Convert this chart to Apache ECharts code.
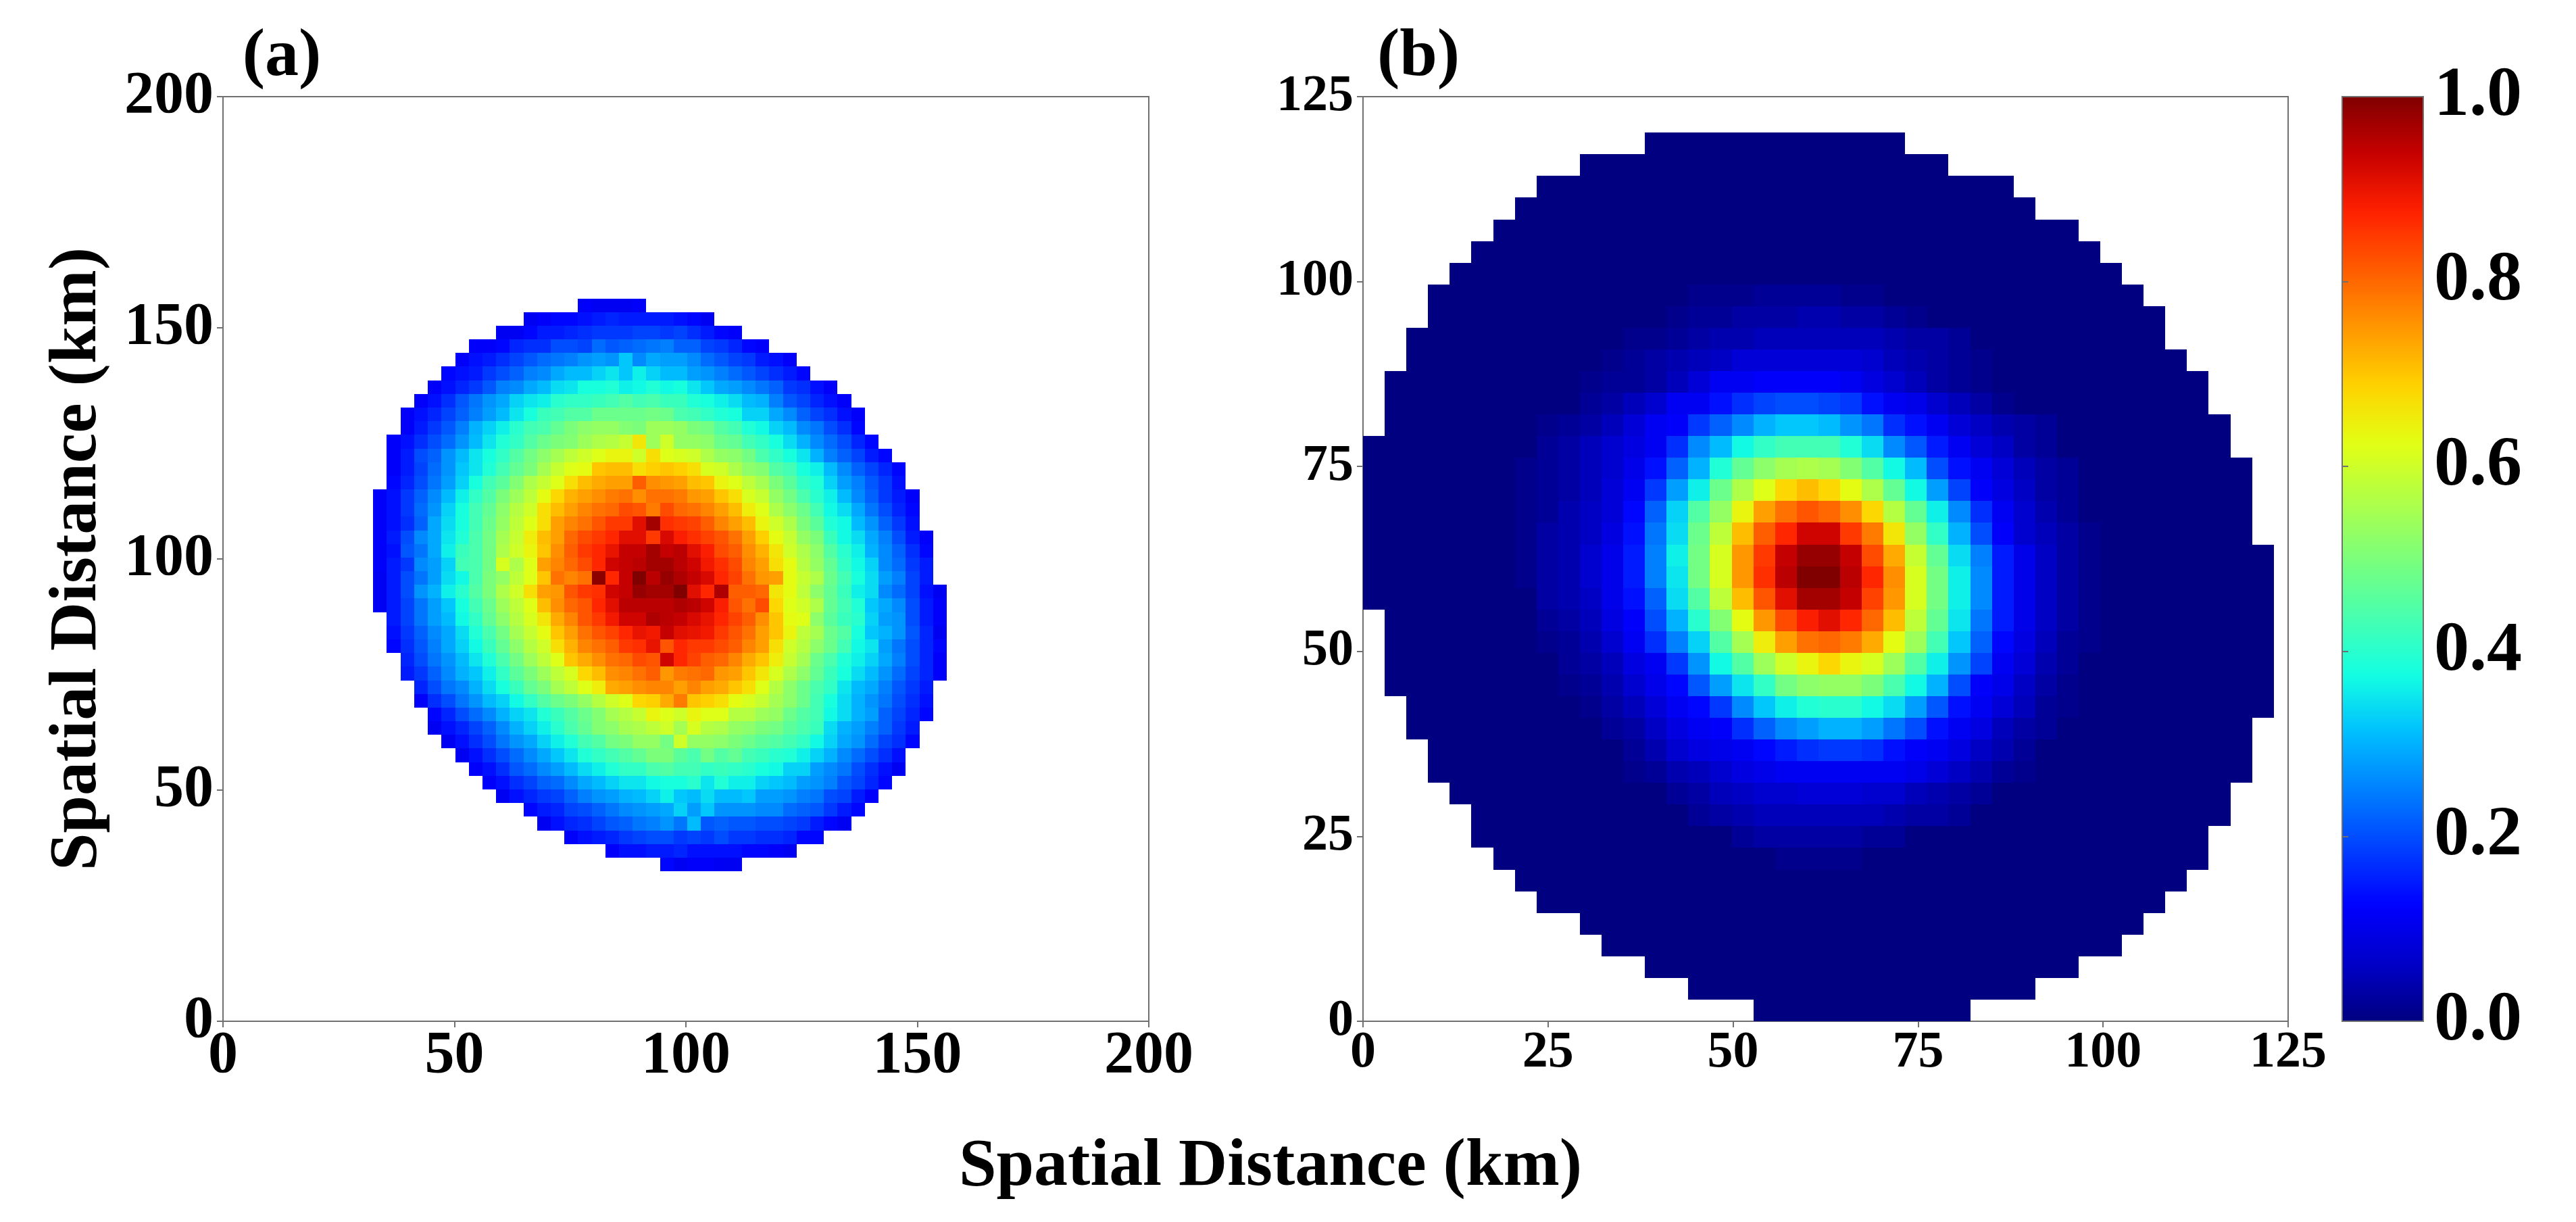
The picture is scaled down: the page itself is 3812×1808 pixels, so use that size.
<!DOCTYPE html>
<html>
<head>
<meta charset="utf-8">
<title>Spatial Distance</title>
<script src="https://cdn.jsdelivr.net/npm/echarts@6/dist/echarts.min.js"></script>
<style>
html, body { margin: 0; padding: 0; background: #fff; }
#chart { width: 3812px; height: 1808px; }
</style>
</head>
<body>
<div id="chart"></div>
<script>
// panel (a): rows run bottom to top from rowIndex 11, each row starts at its own column
var aFirstRow = 11;
var aStartCol = [32,28,25,23,22,20,19,18,17,16,15,15,14,14,13,13,12,12,12,11,11,11,11,11,11,11,11,11,12,12,12,12,13,13,14,15,16,17,18,20,22,26];
var aRows = [
[13,11,12,12,11,11],
[12,14,14,15,15,16,14,14,14,14,13,13,12,11],
[12,14,15,16,18,19,20,20,18,19,18,20,18,18,17,17,16,13,13],
[11,14,16,17,19,21,22,24,25,27,24,31,21,22,21,21,20,20,19,18,15,13,11],
[13,15,16,19,20,22,24,26,27,28,29,33,28,32,27,27,27,26,26,23,22,21,18,15,13],
[11,14,16,18,19,22,25,27,28,30,31,33,36,32,31,34,31,31,32,28,28,27,25,24,20,19,15,12],
[12,14,17,19,22,23,26,29,31,33,35,35,37,38,38,40,35,39,36,36,33,32,31,28,27,25,21,19,16,13],
[12,14,17,21,23,26,28,31,34,36,39,41,41,44,45,43,43,41,42,41,40,38,37,33,33,28,26,24,20,17,14,11],
[11,14,17,20,23,26,29,32,35,39,41,43,45,47,50,50,46,44,49,45,47,43,42,40,39,36,33,30,26,23,20,17,14],
[11,14,17,20,24,27,29,33,36,39,43,45,49,50,53,53,49,60,53,53,52,50,48,46,45,43,41,37,33,29,27,23,19,17,13],
[11,14,16,19,22,26,30,33,36,40,44,47,51,52,55,56,58,60,55,61,57,56,53,52,50,49,46,44,42,34,30,28,25,22,18,15],
[13,16,20,23,26,30,33,35,39,42,45,48,51,55,57,59,64,62,60,64,62,62,57,57,54,53,48,45,43,37,34,30,28,22,19,16,13],
[12,17,20,24,27,31,33,37,41,45,48,50,53,57,60,62,68,69,73,78,70,69,67,63,61,59,55,52,48,43,38,34,30,27,24,20,17,14],
[16,20,24,26,30,34,38,42,47,50,55,58,62,65,73,74,76,77,77,74,77,74,73,70,67,62,57,52,48,44,41,35,31,29,25,21,18,15],
[15,18,22,26,30,32,36,41,46,50,54,58,61,68,71,76,77,79,81,75,78,79,80,75,74,70,66,61,56,52,47,42,38,34,31,27,23,19,16,12],
[16,20,24,27,31,35,39,44,49,54,58,62,70,73,76,79,80,83,82,93,87,84,81,80,77,73,70,65,59,55,48,44,39,36,33,29,25,20,16,12],
[13,17,21,25,29,33,37,42,47,52,57,60,67,72,77,79,81,85,86,90,82,87,85,85,83,81,77,74,67,60,57,52,48,43,37,35,28,24,20,16,13],
[14,18,22,26,29,34,39,44,49,55,59,63,70,74,79,82,84,87,90,89,94,91,90,89,85,82,79,74,70,64,58,55,48,45,38,32,30,27,21,16,11],
[15,19,24,28,31,37,41,47,52,57,61,66,73,77,82,85,89,93,93,96,95,94,92,90,87,84,81,76,70,63,62,52,46,42,40,33,28,27,20,15,12],
[11,15,19,24,28,32,38,43,48,54,58,62,71,76,80,82,87,91,95,95,95,95,96,95,93,88,82,79,83,68,62,60,56,47,43,39,32,29,26,20,15,12],
[11,15,20,27,30,36,40,45,50,56,60,67,74,75,82,85,86,93,94,98,97,97,100,91,87,96,81,81,80,66,63,58,52,47,42,36,34,26,23,19,14,11],
[11,15,20,24,28,34,37,44,50,53,58,62,70,79,77,79,99,87,94,100,95,98,96,94,92,87,84,79,75,74,63,59,56,48,43,38,34,28,25,19,15],
[12,15,18,26,28,33,43,44,49,61,56,62,74,77,80,83,87,93,94,95,97,97,95,93,89,86,83,77,74,67,63,57,53,47,41,37,33,26,23,18,15],
[12,14,21,24,29,36,42,44,49,56,60,64,70,76,81,85,87,90,94,94,97,94,95,91,88,83,81,76,72,66,60,56,52,45,40,36,30,26,22,17,13],
[12,15,20,26,29,35,39,44,49,55,59,65,71,74,80,83,85,87,91,91,85,92,88,86,84,82,79,74,69,63,59,53,50,42,37,34,29,25,20,15,12],
[12,14,17,22,29,34,38,43,48,53,58,62,67,74,77,79,82,85,85,91,97,86,85,84,81,77,74,71,64,60,56,50,46,39,37,31,27,22,18,14],
[12,14,18,23,27,33,38,43,47,52,57,60,67,71,74,77,79,80,83,82,78,83,80,79,77,74,71,65,62,56,52,48,43,37,34,29,24,20,16,13],
[12,14,18,22,26,31,36,41,45,50,54,58,63,68,72,74,76,78,79,76,79,79,78,75,74,70,67,61,59,53,49,44,40,36,31,26,22,18,15,12],
[13,16,20,24,28,33,38,43,46,51,56,59,62,67,71,73,74,74,81,76,75,74,71,70,64,62,58,55,50,46,41,39,33,28,25,21,18,14],
[12,15,19,23,27,32,35,39,43,47,50,55,59,62,63,70,71,71,67,69,70,69,67,61,60,56,52,51,45,43,38,36,31,26,22,19,16,13],
[12,15,20,22,27,31,35,38,41,45,49,52,55,58,60,62,64,64,60,67,62,61,60,56,53,52,49,44,41,38,35,30,25,22,19,15,13],
[12,14,17,20,23,27,31,35,39,41,45,48,50,51,54,56,57,59,66,54,60,53,53,52,48,47,43,41,38,34,30,26,23,20,16,13],
[12,15,18,21,25,30,33,36,40,43,44,47,50,52,53,53,51,50,54,54,53,50,49,45,43,39,37,33,31,26,24,20,17,13],
[12,14,16,19,22,25,28,31,35,38,42,43,45,45,48,48,48,48,49,48,44,43,41,39,38,33,33,29,26,22,19,17,14,12],
[12,14,17,21,24,27,29,33,35,36,40,41,41,42,43,45,43,44,42,42,39,38,36,34,31,30,25,21,19,16,14,12],
[12,14,16,18,21,25,26,29,31,34,35,38,38,39,36,37,39,37,38,35,32,29,28,26,24,22,18,17,14,12],
[13,14,15,18,20,22,25,26,29,31,31,33,35,32,36,33,31,31,28,27,25,23,21,19,17,15,13],
[12,14,15,17,19,21,23,24,25,27,28,27,32,26,29,28,28,26,23,21,19,18,15,14,12],
[12,12,13,16,17,17,20,20,19,23,21,22,23,24,25,22,22,19,18,16,13,12],
[11,11,13,15,15,16,17,18,18,18,19,19,18,19,17,15,13,12],
[11,12,13,13,14,15,16,15,15,15,15,14,13,11],
[12,11,11,11,12]
];

// panel (b): outline per row, then the part of the disc that is not plain navy
var bRowStart = [18,15,13,11,10,8,7,6,5,5,4,3,3,2,2,1,1,1,1,0,0,0,0,0,0,0,0,1,1,1,2,2,3,3,4,5,6,7,8,10,13];
var bRowEnd = [28,31,33,35,36,37,38,39,39,40,40,41,41,41,42,42,42,42,42,42,42,42,41,41,41,41,40,40,39,39,38,37,37,36,35,34,33,31,30,27,25];
var bCoreFirstRow = 7;
var bCoreCol = [19,17,15,14,12,12,11,10,9,9,8,8,8,7,7,7,7,7,7,8,8,10,10,11,12,14,15];
var bCoreRows = [
[1,1,1,1],
[2,3,3,3,3,3,2,2],
[2,3,4,5,5,5,5,5,5,4,3,3,2],
[2,3,5,6,7,7,8,8,8,7,7,5,4,3,2],
[1,2,4,5,7,9,10,11,11,11,11,11,11,10,8,6,4,2,1],
[2,4,7,9,10,11,13,15,17,18,18,17,14,12,11,9,6,4,2],
[2,3,6,9,11,12,17,22,26,28,30,30,28,24,20,14,11,9,5,3,2],
[1,3,5,8,11,13,18,26,32,36,39,40,40,37,34,28,21,14,11,8,5,2,1],
[1,2,4,7,10,13,21,28,35,41,49,52,53,53,50,44,37,30,20,12,10,6,3,1],
[2,3,5,9,11,18,27,37,45,54,60,64,68,64,61,54,45,36,27,19,11,8,4,2],
[1,2,4,7,11,17,25,33,45,55,65,74,79,80,78,73,63,54,43,32,22,13,9,5,2,1],
[2,3,5,9,12,20,30,40,51,63,75,83,88,91,87,80,71,58,47,35,24,15,10,6,3,1],
[3,4,6,10,14,22,34,45,58,71,82,91,97,97,94,84,75,61,49,36,26,15,10,6,3,1],
[1,3,4,7,10,15,25,35,49,61,75,86,95,100,100,95,87,76,61,49,36,26,15,10,6,3,1],
[1,3,4,7,10,15,25,36,49,61,75,85,94,98,98,94,83,73,59,47,34,25,15,10,6,3,1],
[1,3,4,6,9,14,24,34,48,58,71,81,87,93,93,85,78,66,53,41,30,20,12,7,5,3,1],
[1,2,4,6,8,13,22,33,45,53,64,74,79,82,80,76,68,57,47,36,26,17,11,7,4,2],
[1,2,3,5,8,11,18,28,36,48,56,62,68,71,68,63,56,47,37,28,19,12,9,6,3,2],
[1,2,3,5,7,10,14,22,30,39,47,52,55,56,55,51,45,37,31,20,14,11,8,5,3,2],
[2,3,5,7,9,11,17,26,31,37,41,43,43,43,39,34,26,21,15,11,8,6,3,2],
[1,2,3,5,8,11,12,18,22,26,30,32,32,31,27,24,17,14,11,8,6,4,3,2],
[2,3,5,7,11,11,14,17,19,20,20,19,18,14,11,10,7,5,3,1],
[1,2,2,3,5,8,11,11,12,12,12,12,11,9,7,5,3,2,1],
[1,2,3,4,5,6,8,8,8,8,8,8,7,5,4,3,2,1],
[1,1,2,3,4,4,5,5,5,5,5,5,4,3,3,2],
[1,2,2,3,3,3,4,4,3,3,2,1],
[1,1,1,2,2,2,2,1,1]
];

var aCellKm = 2.95;
var bCellKm = 2.93;
var aTicks = [0, 50, 100, 150, 200];
var bTicks = [0, 25, 50, 75, 100, 125];
var barTicks = [0, 0.2, 0.4, 0.6, 0.8, 1];
var jetColors = ['#000080','#0000c8','#0000ff','#0040ff','#0080ff','#00bfff','#14ffe2','#48ffaf','#7bff7b','#afff48','#e2ff14','#ffd200','#ff9700','#ff5c00','#ff2100','#c80000','#800000'];

var FONT = '"Liberation Serif", "Times New Roman", serif';
var LINE = '#707070';

function buildA() {
    var out = [];
    aRows.forEach(function(vals, j) {
        vals.forEach(function(v, i) {
            out.push([(aStartCol[j] + i) * aCellKm, (aFirstRow + j) * aCellKm, v / 100]);
        });
    });
    return out;
}

function buildB() {
    var out = [];
    bRowStart.forEach(function(start, r) {
        var core = bCoreRows[r - bCoreFirstRow];
        var from = bCoreCol[r - bCoreFirstRow];
        for (var c = start; c < bRowEnd[r]; c++) {
            var v = 0;
            if (core && c >= from && c - from < core.length) {
                v = core[c - from];
            }
            out.push([c * bCellKm, r * bCellKm, v / 100]);
        }
    });
    return out;
}

function cellRender(cell) {
    return function(params, api) {
        var x = api.value(0), y = api.value(1);
        var p0 = api.coord([x, y + cell]);
        var p1 = api.coord([x + cell, y]);
        var left = Math.round(p0[0]), top = Math.round(p0[1]);
        return {
            type: 'rect',
            shape: { x: left, y: top, width: Math.round(p1[0]) - left, height: Math.round(p1[1]) - top },
            style: { fill: api.visual('color') }
        };
    };
}

function axis(ticks, size, margin, extra) {
    var opt = {
        type: 'value',
        min: ticks[0],
        max: ticks[ticks.length - 1],
        interval: ticks[1] - ticks[0],
        splitLine: { show: false },
        axisLine: { show: true, lineStyle: { color: LINE, width: 2 } },
        axisTick: { show: true, length: 9, lineStyle: { color: LINE, width: 2 } },
        axisLabel: { color: '#000', fontFamily: FONT, fontWeight: 'bold', fontSize: size, margin: margin }
    };
    for (var k in extra) { opt[k] = extra[k]; }
    return opt;
}

var yLabel = function(size) {
    return { color: '#000', fontFamily: FONT, fontWeight: 'bold', fontSize: size, margin: 14, padding: [14, 0, 0, 0] };
};

var chart = echarts.init(document.getElementById('chart'));
chart.setOption({
    backgroundColor: '#fff',
    animation: false,
    title: [
        { text: '(a)', left: 412, top: 30, textAlign: 'center', textStyle: { fontFamily: FONT, fontWeight: 'bold', fontSize: 100, color: '#000' } },
        { text: '(b)', left: 2094, top: 30, textAlign: 'center', textStyle: { fontFamily: FONT, fontWeight: 'bold', fontSize: 100, color: '#000' } },
        { text: 'Spatial Distance (km)', left: 1875, top: 1672, textAlign: 'center', textStyle: { fontFamily: FONT, fontWeight: 'bold', fontSize: 100, color: '#000' } }
    ],
    grid: [
        { left: 330, top: 143, width: 1370, height: 1368, show: true, borderColor: LINE, borderWidth: 2, backgroundColor: 'transparent' },
        { left: 2017, top: 143, width: 1369, height: 1368, show: true, borderColor: LINE, borderWidth: 2, backgroundColor: 'transparent' },
        { left: 3466, top: 143, width: 120, height: 1368, show: true, borderColor: LINE, borderWidth: 2, backgroundColor: 'transparent', z: 10 }
    ],
    xAxis: [
        axis(aTicks, 88, 8, { gridIndex: 0 }),
        axis(bTicks, 76, 9, { gridIndex: 1 }),
        { type: 'value', gridIndex: 2, min: 0, max: 1, show: false }
    ],
    yAxis: [
        axis(aTicks, 88, 14, {
            gridIndex: 0,
            axisLabel: yLabel(88),
            name: 'Spatial Distance (km)',
            nameLocation: 'middle',
            nameGap: 165,
            nameTextStyle: { fontFamily: FONT, fontWeight: 'bold', fontSize: 100, color: '#000' }
        }),
        axis(bTicks, 76, 14, { gridIndex: 1, axisLabel: yLabel(76) }),
        axis(barTicks, 104, 16, {
            gridIndex: 2,
            position: 'right',
            z: 11,
            axisLabel: {
                color: '#000', fontFamily: FONT, fontWeight: 'bold', fontSize: 104, margin: 16, padding: [14, 0, 0, 0],
                formatter: function(v) { return v.toFixed(1); }
            }
        })
    ],
    visualMap: {
        type: 'continuous',
        min: 0,
        max: 1,
        dimension: 2,
        seriesIndex: [0, 1],
        calculable: false,
        realtime: false,
        left: 3466,
        top: 143,
        itemWidth: 120,
        itemHeight: 1368,
        padding: 0,
        text: ['', ''],
        showLabel: false,
        inRange: { color: jetColors }
    },
    series: [
        {
            type: 'custom',
            xAxisIndex: 0,
            yAxisIndex: 0,
            renderItem: cellRender(aCellKm),
            encode: { x: 0, y: 1 },
            data: buildA(),
            silent: true
        },
        {
            type: 'custom',
            xAxisIndex: 1,
            yAxisIndex: 1,
            renderItem: cellRender(bCellKm),
            encode: { x: 0, y: 1 },
            data: buildB(),
            silent: true
        }
    ]
});
</script>
</body>
</html>
